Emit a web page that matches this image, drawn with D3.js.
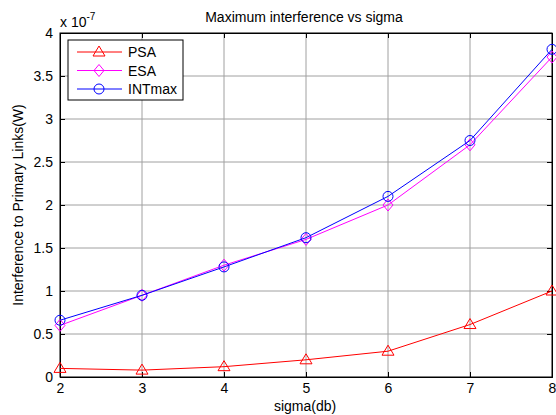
<!DOCTYPE html>
<html><head><meta charset="utf-8">
<script src="https://cdn.jsdelivr.net/npm/d3@7"></script>
<style>body{margin:0;background:#fff}svg{display:block}text{font-family:"Liberation Sans",Arial,sans-serif}</style>
</head><body>
<svg id="c" width="556" height="415"></svg>
<script>
const sigma = [2,3,4,5,6,7,8];
const psa = [0.10,0.08,0.12,0.20,0.30,0.61,1.0];
const esa = [0.60,0.95,1.30,1.60,2.00,2.70,3.72];
const intmax = [0.66,0.95,1.28,1.62,2.10,2.75,3.81];
const xTicks = [2,3,4,5,6,7,8];
const yTicks = [0,0.5,1,1.5,2,2.5,3,3.5,4];
const seriesNames = ["PSA","ESA","INTmax"];

const svg = d3.select("#c");
const L=60,R=552,T=33,B=377;
const x = d3.scaleLinear().domain([2,8]).range([L,R]);
const y = d3.scaleLinear().domain([0,4]).range([B,T]);

// grid
const g = svg.append("g");
g.selectAll(".gx").data(xTicks.slice(1,-1)).enter().append("line")
 .attr("x1",d=>x(d)).attr("x2",d=>x(d)).attr("y1",T).attr("y2",B)
 .attr("stroke","#a0a0a0").attr("stroke-width",1);
g.selectAll(".gy").data(yTicks.slice(1,-1)).enter().append("line")
 .attr("y1",d=>y(d)).attr("y2",d=>y(d)).attr("x1",L).attr("x2",R)
 .attr("stroke","#a0a0a0").attr("stroke-width",1);

// axes
const xa = svg.append("g").attr("transform",`translate(0,${B})`).call(d3.axisBottom(x).tickValues(xTicks).tickFormat(d3.format("d")).tickSize(-5).tickPadding(6));
const xa2 = svg.append("g").attr("transform",`translate(0,${T})`).call(d3.axisTop(x).tickValues(xTicks).tickFormat("").tickSize(-5));
const ya = svg.append("g").attr("transform",`translate(${L},0)`).call(d3.axisLeft(y).tickValues(yTicks).tickFormat(d=>d).tickSize(-5).tickPadding(7));
const ya2 = svg.append("g").attr("transform",`translate(${R},0)`).call(d3.axisRight(y).tickValues(yTicks).tickFormat("").tickSize(-5));
[xa,xa2,ya,ya2].forEach(a=>{a.selectAll("path").attr("stroke","#000");a.selectAll("line").attr("stroke","#000");a.selectAll("text").attr("font-size",14).attr("fill","#000").attr("font-family","Liberation Sans, Arial, sans-serif");});

svg.append("rect").attr("x",L).attr("y",T).attr("width",R-L).attr("height",B-T).attr("fill","none").attr("stroke","#000");

const line = d3.line().x((d,i)=>x(sigma[i])).y(d=>y(d));
function triangle(sel,cx,cy,col){sel.append("path").attr("d",`M${cx},${cy-6}L${cx+6},${cy+4}L${cx-6},${cy+4}Z`).attr("fill","none").attr("stroke",col);}
function diamond(sel,cx,cy,col){sel.append("path").attr("d",`M${cx},${cy-6}L${cx+5},${cy}L${cx},${cy+6}L${cx-5},${cy}Z`).attr("fill","none").attr("stroke",col);}
function circ(sel,cx,cy,col){sel.append("circle").attr("cx",cx).attr("cy",cy).attr("r",5).attr("fill","none").attr("stroke",col);}
const series=[{d:psa,c:"#ff0000",m:triangle},{d:esa,c:"#ff00ff",m:diamond},{d:intmax,c:"#0000ff",m:circ}];
series.forEach(s=>{
  svg.append("path").attr("d",line(s.d)).attr("fill","none").attr("stroke",s.c).attr("stroke-width",1);
  const mg=svg.append("g");
  s.d.forEach((v,i)=>s.m(mg,x(sigma[i]),y(v),s.c));
});

// legend
const lg=svg.append("g");
lg.append("rect").attr("x",68).attr("y",40).attr("width",115).attr("height",60).attr("fill","#fff").attr("stroke","#000");
series.forEach((s,i)=>{
  const yy=52+i*18.5;
  lg.append("line").attr("x1",77).attr("x2",122).attr("y1",yy).attr("y2",yy).attr("stroke",s.c);
  s.m(lg,99,yy,s.c);
  lg.append("text").attr("x",128).attr("y",yy+5).attr("font-size",14).text(seriesNames[i]);
});

// texts
svg.append("text").attr("x",304).attr("y",22).attr("text-anchor","middle").attr("font-size",14).text("Maximum interference vs sigma");
svg.append("text").attr("x",305).attr("y",411).attr("text-anchor","middle").attr("font-size",14).text("sigma(db)");
svg.append("text").attr("transform","translate(23,205) rotate(-90)").attr("text-anchor","middle").attr("font-size",14).text("Interference to Primary Links(W)");
const ex=svg.append("text").attr("x",60).attr("y",27).attr("font-size",14);
ex.append("tspan").text("x 10");
ex.append("tspan").attr("font-size",10).attr("dy",-7).text("-7");
</script>
</body></html>
